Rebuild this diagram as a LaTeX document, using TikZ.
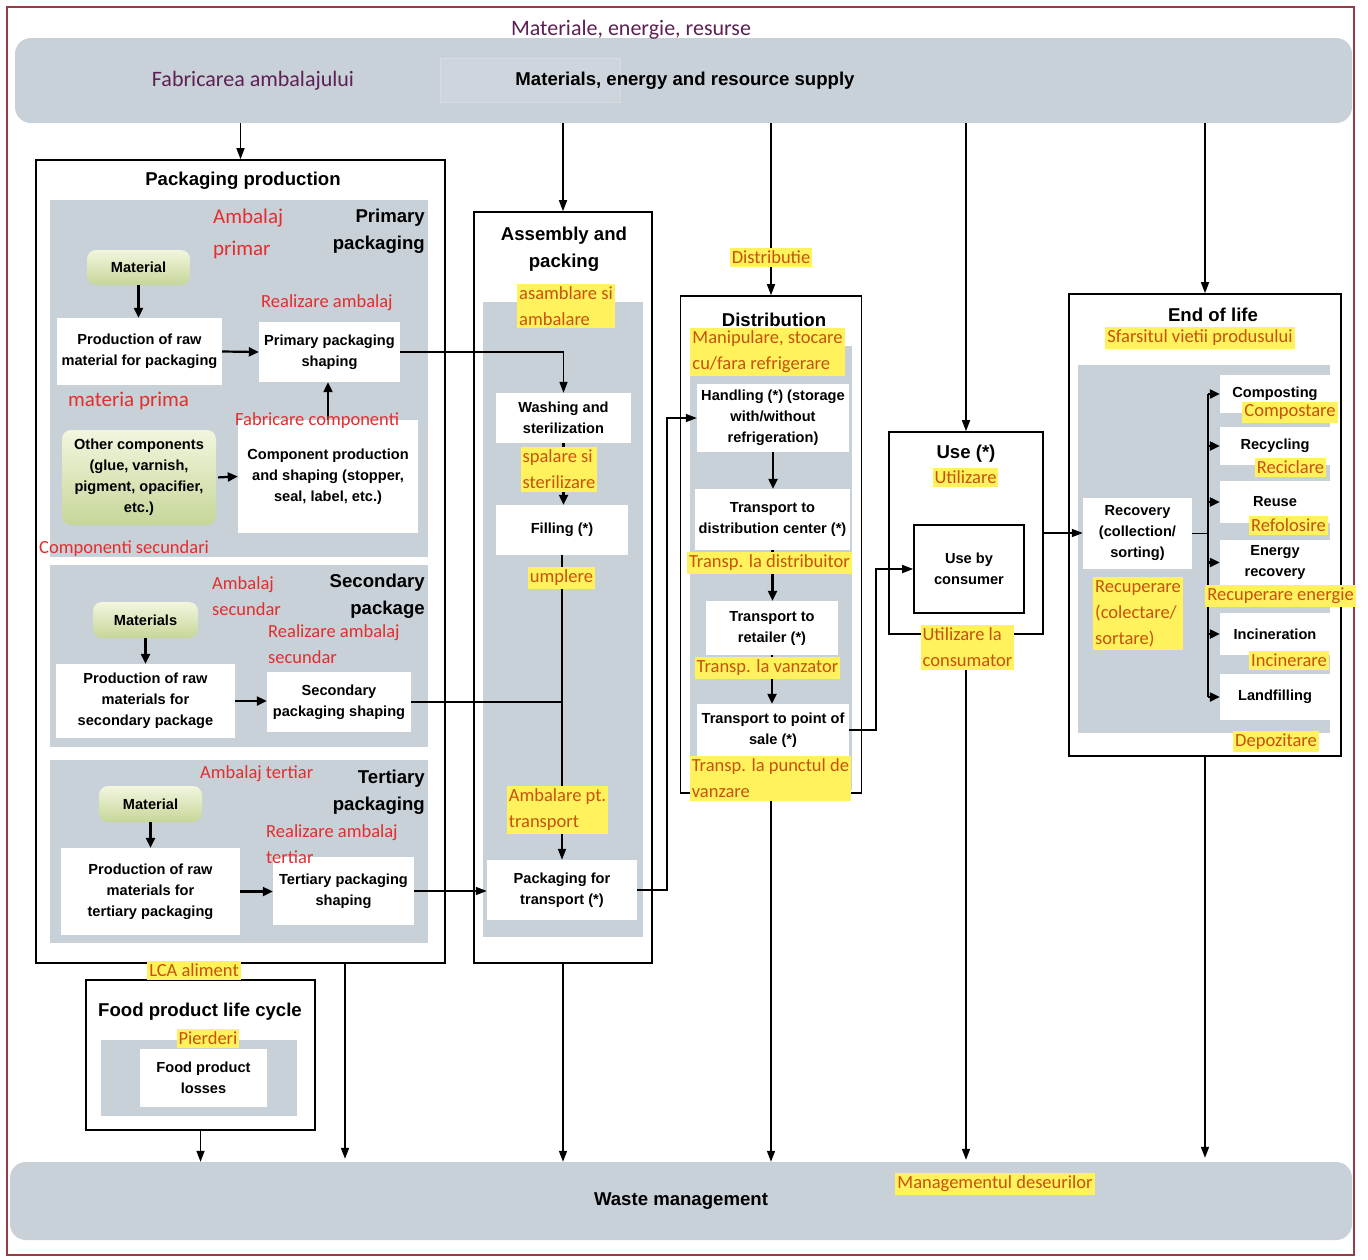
\documentclass[tikz,border=0pt]{standalone}
\usepackage{fontspec}
\setmainfont{Liberation Sans}
\newfontfamily\cfont{Carlito}
\usepackage{tikz}
\usetikzlibrary{arrows.meta}
\usepackage{xcolor}

\definecolor{panelgray}{RGB}{200,208,216}
\definecolor{greentop}{RGB}{242,246,222}
\definecolor{greenbot}{RGB}{198,214,152}
\definecolor{redtxt}{RGB}{228,45,45}
\definecolor{hlyel}{RGB}{255,242,92}
\definecolor{hltxt}{RGB}{198,82,12}
\definecolor{purp}{RGB}{92,32,84}
\definecolor{framered}{RGB}{150,60,72}
\definecolor{faintfill}{RGB}{206,213,220}
\definecolor{faintline}{RGB}{214,220,226}

\newcommand\boxfnt{\fontsize{14.6}{21}\selectfont\bfseries}
\newcommand\ttlfnt{\fontsize{18.6}{27}\selectfont\bfseries}
\newcommand\redfnt{\cfont\fontsize{18.5}{26}\selectfont}
\newcommand\redbig{\cfont\fontsize{21}{32}\selectfont}
\newcommand\purfnt{\cfont\fontsize{22}{26}\selectfont}

\begin{document}
\begin{tikzpicture}[x=1pt,y=-1pt,
  bigbox/.style={draw=black, line width=1.6pt, fill=white, inner sep=0pt},
  panel/.style={fill=panelgray, inner sep=0pt},
  bar/.style={fill=panelgray, rounded corners=16pt, inner sep=0pt},
  wbox/.style={fill=white, align=center, inner sep=0pt, font=\boxfnt},
  gbox/.style={rounded corners=9pt, top color=greentop, bottom color=greenbot, align=center, inner sep=0pt, font=\boxfnt},
  ttl/.style={font=\ttlfnt, align=center, inner sep=0pt},
  hdr/.style={font=\ttlfnt, align=right, inner sep=0pt, anchor=east},
  rtxt/.style={text=redtxt, font=\redfnt, align=left, inner sep=0pt, anchor=west},
  ylbl/.style={fill=hlyel, text=hltxt, font=\redfnt, align=left, inner xsep=2pt, inner ysep=3pt},
  plbl/.style={text=purp, font=\purfnt, inner sep=0pt},
  conn/.style={line width=1.6pt},
  larr/.style={line width=1.6pt, -{Triangle[length=11pt,width=8pt]}},
  sarr/.style={line width=2.2pt, -{Triangle[length=10pt,width=9pt]}}]

\useasboundingbox (0,0) rectangle (1368,1259);
\draw[draw=framered, line width=1.4pt] (7,7) rectangle (1354,1255);

% supply bar
\node[bar, minimum width=1337pt, minimum height=85pt] (supply) at (683.5,80.5) {};
\draw[fill=faintfill, draw=faintline, line width=1pt] (440,58) rectangle (620,102);
\node[font=\ttlfnt, inner sep=0pt] (supplytxt) at (685,81) {Materials, energy and resource supply};
\node[plbl] (fabrlbl) at (253,81) {Fabricarea ambalajului};
\node[plbl] (matlbl) at (631,30) {Materiale, energie, resurse};

% waste bar
\node[bar, minimum width=1342pt, minimum height=78pt, font=\ttlfnt] (waste) at (681,1201) {Waste management};
\node[ylbl] (wastelbl) at (995,1184) {Managementul deseurilor};

% packaging production
\node[bigbox, minimum width=409pt, minimum height=803pt] (pp) at (240.5,561.5) {};
\node[ttl] (pptitle) at (243,181) {Packaging production};
\node[panel, minimum width=378pt, minimum height=357pt] (p1panel) at (239,378.5) {};
\node[panel, minimum width=378pt, minimum height=182pt] (p2panel) at (239,656) {};
\node[panel, minimum width=378pt, minimum height=183pt] (p3panel) at (239,851.5) {};

% primary
\node[hdr] (p1hdr) at (425,231.5) {Primary\\packaging};
\node[rtxt, font=\redbig] (p1ro) at (213,234) {Ambalaj\\primar};
\node[gbox, minimum width=103pt, minimum height=35pt] (mat1) at (138.5,267.5) {Material};
\node[wbox, minimum width=165pt, minimum height=67pt] (raw1) at (139.5,351.5) {Production of raw\\material for packaging};
\node[wbox, minimum width=141pt, minimum height=60pt] (shp1) at (329.5,352) {Primary packaging\\shaping};
\node[gbox, minimum width=154pt, minimum height=95pt] (oth1) at (139,477.5) {Other components\\(glue, varnish,\\pigment, opacifier,\\etc.)};
\node[wbox, minimum width=180pt, minimum height=113pt] (cmp1) at (328,476.5) {Component production\\and shaping (stopper,\\seal, label, etc.)};
\draw[sarr] (mat1.south) -- (mat1.south |- raw1.north);
\draw[sarr] (raw1.east) -- (shp1.west);
\draw[sarr, shorten <=2pt] (oth1.east) -- (cmp1.west);
\draw[sarr] (cmp1.north) -- (cmp1.north |- shp1.south);
\node[rtxt] (p1real) at (261,303) {Realizare ambalaj};
\node[rtxt, font=\redbig] (p1mp) at (68,401) {materia prima};
\node[rtxt] (p1fc) at (235,421) {Fabricare componenti};
\node[rtxt] (p1cs) at (39,549) {Componenti secundari};

% secondary
\node[hdr] (p2hdr) at (425,596.5) {Secondary\\package};
\node[rtxt] (p2ro) at (212,596.5) {Ambalaj\\secundar};
\node[gbox, minimum width=105pt, minimum height=36pt] (mat2) at (145.5,620) {Materials};
\node[wbox, minimum width=179pt, minimum height=74pt] (raw2) at (145.5,701) {Production of raw\\materials for\\secondary package};
\node[wbox, minimum width=144pt, minimum height=60pt] (shp2) at (339,702) {Secondary\\packaging shaping};
\node[rtxt] (p2real) at (268,644) {Realizare ambalaj\\secundar};
\draw[sarr] (mat2.south) -- (mat2.south |- raw2.north);
\draw[sarr] (raw2.east) -- (shp2.west |- raw2.east);

% tertiary
\node[hdr] (p3hdr) at (425,792) {Tertiary\\packaging};
\node[rtxt] (p3ro) at (200,774) {Ambalaj tertiar};
\node[gbox, minimum width=103pt, minimum height=36pt] (mat3) at (150.5,804) {Material};
\node[wbox, minimum width=179pt, minimum height=87pt] (raw3) at (150.5,891.5) {Production of raw\\materials for\\tertiary packaging};
\node[wbox, minimum width=141pt, minimum height=68pt] (shp3) at (343.5,891) {Tertiary packaging\\shaping};
\node[rtxt] (p3real) at (266,844) {Realizare ambalaj\\tertiar};
\draw[sarr] (mat3.south) -- (mat3.south |- raw3.north);
\draw[sarr] (raw3.east) -- (shp3.west |- raw3.east);

% assembly and packing
\node[bigbox, minimum width=178pt, minimum height=751pt] (asm) at (563,587.5) {};
\node[ttl] (asmtitle) at (564,249.5) {Assembly and\\packing};
\node[panel, minimum width=160pt, minimum height=635pt] (asmpanel) at (563,619.5) {};
\node[wbox, minimum width=135pt, minimum height=50pt] (wash) at (563.5,418) {Washing and\\sterilization};
\node[wbox, minimum width=132pt, minimum height=50pt] (filling) at (562,530) {Filling (*)};
\node[wbox, minimum width=150pt, minimum height=60pt] (pft) at (562,890) {Packaging for\\transport (*)};
\draw[larr] (shp1.east) -- (shp1.east -| wash.north) -- (wash.north);
\draw[sarr] (wash.south) -- (wash.south |- filling.north);
\draw[larr] (filling.south) -- (filling.south |- pft.north);
\draw[conn] (shp2.east) -- (shp2.east -| filling.south);
\draw[larr] (shp3.east) -- (pft.west |- shp3.east);
\node[ylbl] (asmlbl) at (566,306) {asamblare si\\ambalare};
\node[ylbl] (spllbl) at (559,469.5) {spalare si\\sterilizare};
\node[ylbl] (umplbl) at (561.5,578) {umplere};
\node[ylbl] (trplbl) at (557.5,810) {Ambalare pt.\\transport};

% distribution
\node[bigbox, minimum width=181pt, minimum height=497pt] (dist) at (771,544.5) {};
\node[ttl] (disttitle) at (774,320) {Distribution};
\node[panel, minimum width=162pt, minimum height=444pt] (distpanel) at (771,568) {};
\node[wbox, minimum width=152pt, minimum height=68pt] (hand) at (773,418) {Handling (*) (storage\\with/without\\refrigeration)};
\node[wbox, minimum width=155pt, minimum height=61pt] (tdc) at (772.5,519.5) {Transport to\\distribution center (*)};
\node[wbox, minimum width=132pt, minimum height=54pt] (tret) at (772,628) {Transport to\\retailer (*)};
\node[wbox, minimum width=152pt, minimum height=52pt] (tpos) at (773,730) {Transport to point of\\sale (*)};
\coordinate (bendA) at (667,0);
\draw[larr] (pft.east) -- (pft.east -| bendA) -- (bendA |- hand.west) -- (hand.west);
\draw[sarr] (hand.south) -- (hand.south |- tdc.north);
\draw[sarr] (tdc.south) -- (tdc.south |- tret.north);
\draw[sarr] (tret.south) -- (tret.south |- tpos.north);
\node[ylbl] (distlbl) at (771,257.5) {Distributie};
\node[ylbl] (manlbl) at (767.5,352) {Manipulare, stocare\\cu/fara refrigerare};
\node[ylbl] (tdclbl) at (769.5,563) {Transp. la distribuitor};
\node[ylbl] (tretlbl) at (767.5,668) {Transp. la vanzator};
\node[ylbl] (pdvlbl) at (770.5,778) {Transp. la punctul de\\vanzare};

% use
\node[bigbox, minimum width=154pt, minimum height=202pt] (use) at (966,533) {};
\node[ttl] (usetitle) at (966,454) {Use (*)};
\node[ylbl] (uselbl) at (965.5,477.5) {Utilizare};
\node[wbox, draw=black, line width=1.6pt, minimum width=110pt, minimum height=88pt] (ucons) at (969,569) {Use by\\consumer};
\coordinate (bendB) at (876,0);
\draw[larr] (tpos.east) -- (tpos.east -| bendB) -- (bendB |- ucons.west) -- (ucons.west);
\node[ylbl] (uclbl) at (967.5,647.5) {Utilizare la\\consumator};

% end of life
\node[bigbox, minimum width=272pt, minimum height=462pt] (eol) at (1205,525) {};
\node[ttl] (eoltitle) at (1213,315) {End of life};
\node[ylbl] (eollbl) at (1200,338) {Sfarsitul vietii produsului};
\node[panel, minimum width=252pt, minimum height=368pt] (eolpanel) at (1204,549) {};
\node[wbox, minimum width=109pt, minimum height=71pt] (rec) at (1137.5,533.5) {Recovery\\(collection/\\sorting)};
\draw[larr] (use.east) -- (use.east -| rec.west);
\node[wbox, minimum width=110pt, minimum height=38pt] (comp) at (1275,394) {Composting};
\node[wbox, minimum width=110pt, minimum height=38pt] (recy) at (1275,446) {Recycling};
\node[wbox, minimum width=110pt, minimum height=42pt] (reus) at (1275,502) {Reuse};
\node[wbox, minimum width=110pt, minimum height=45pt] (enrg) at (1275,562.5) {Energy\\recovery};
\node[wbox, minimum width=110pt, minimum height=42pt] (inci) at (1275,634) {Incineration};
\node[wbox, minimum width=110pt, minimum height=46pt] (land) at (1275,697) {Landfilling};
\coordinate (trunk) at (1208,0);
\draw[conn] (rec.east) -- (rec.east -| trunk);
\draw[conn] (trunk |- comp.west) -- (trunk |- land.west);
\draw[sarr] (trunk |- comp.west) -- (comp.west);
\draw[sarr] (trunk |- recy.west) -- (recy.west);
\draw[sarr] (trunk |- reus.west) -- (reus.west);
\draw[sarr] (trunk |- enrg.west) -- (enrg.west);
\draw[sarr] (trunk |- inci.west) -- (inci.west);
\draw[sarr] (trunk |- land.west) -- (land.west);
\node[ylbl] (complbl) at (1290,412) {Compostare};
\node[ylbl] (recylbl) at (1290.5,467.5) {Reciclare};
\node[ylbl] (reuslbl) at (1288.5,525) {Refolosire};
\node[ylbl] (enrglbl) at (1280.5,596) {Recuperare energie};
\node[ylbl] (incilbl) at (1289,660.5) {Incinerare};
\node[ylbl] (landlbl) at (1276,741.5) {Depozitare};
\node[ylbl] (reclbl) at (1138,613.5) {Recuperare\\(colectare/\\sortare)};

% food product
\node[bigbox, minimum width=229pt, minimum height=150pt] (food) at (200.5,1055) {};
\node[ttl] (foodtitle) at (200,1012) {Food product life cycle};
\node[panel, minimum width=196pt, minimum height=76pt] (foodpanel) at (199,1078) {};
\node[wbox, minimum width=127pt, minimum height=58pt] (flos) at (203.5,1078) {Food product\\losses};
\node[ylbl] (pierlbl) at (208,1038) {Pierderi};
\node[ylbl] (lcalbl) at (194,970) {LCA aliment};

% inputs from supply
\draw[larr] (supply.south -| pp.north) -- (pp.north);
\draw[larr] (supply.south -| asm.north) -- (asm.north);
\draw[conn] (supply.south -| distlbl.north) -- (distlbl.north);
\draw[larr] (distlbl.south) -- (distlbl.south |- dist.north);
\draw[larr] (supply.south -| use.north) -- (use.north);
\draw[larr] (supply.south -| eol.north) -- (eol.north);

% outputs to waste
\coordinate (ppout) at (345,963);
\draw[larr, shorten >=3pt] (ppout) -- (ppout |- waste.north);
\draw[larr] (food.south) -- (food.south |- waste.north);
\draw[larr] (asm.south) -- (asm.south |- waste.north);
\draw[larr] (dist.south |- pdvlbl.south) -- (dist.south |- waste.north);
\draw[larr, shorten >=2pt] (use.south |- uclbl.south) -- (use.south |- waste.north);
\draw[larr, shorten >=4pt] (eol.south) -- (eol.south |- waste.north);
\end{tikzpicture}
\end{document}
